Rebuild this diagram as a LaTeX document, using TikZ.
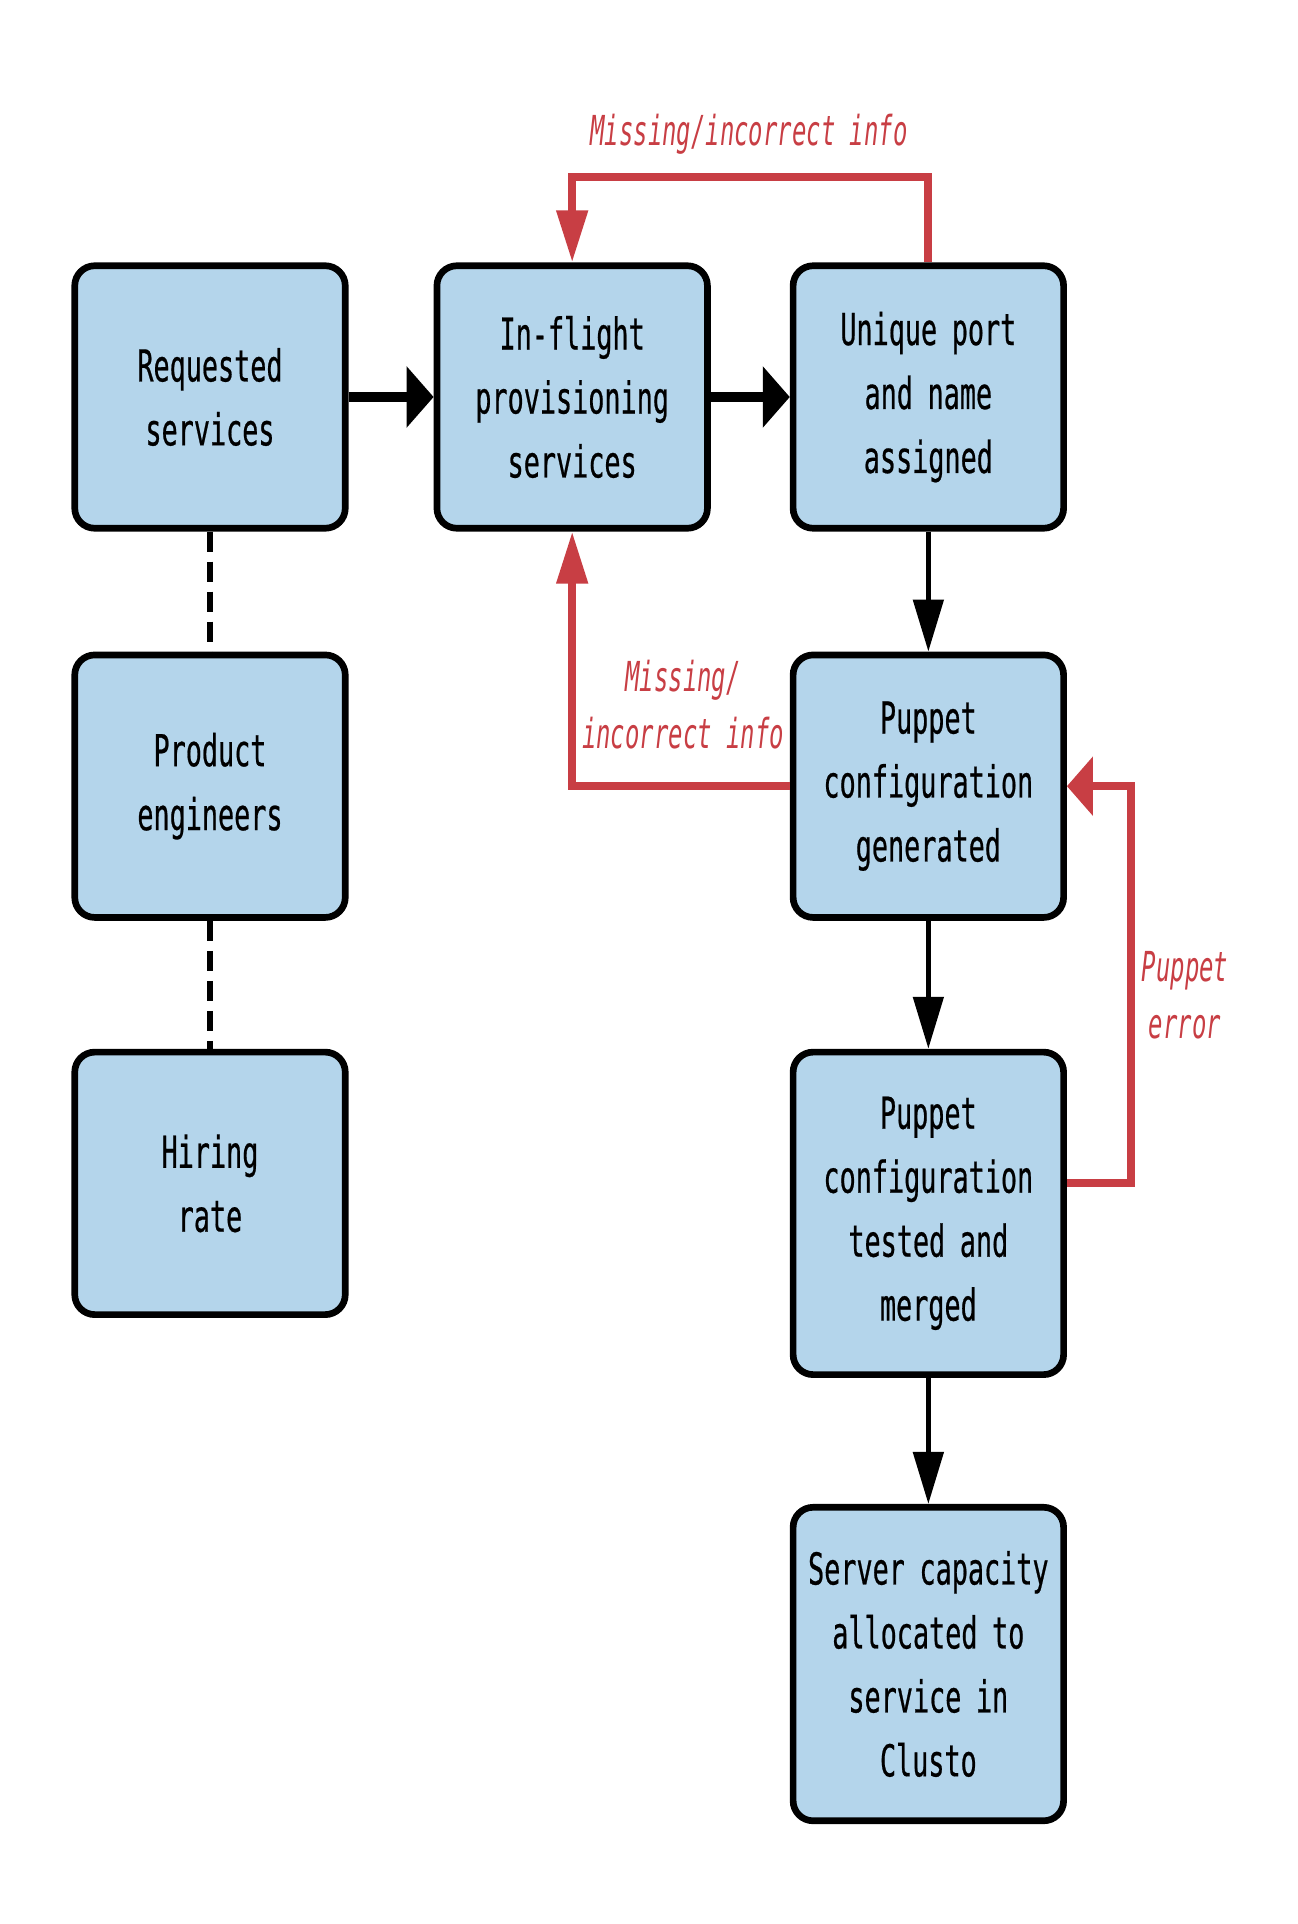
\documentclass[tikz,border=0pt]{standalone}
\usepackage{fontspec}
\newfontfamily\boxfont[FakeStretch=0.61, FakeBold=0.5]{DejaVu Sans Mono}
\newfontfamily\notefont[FakeStretch=0.58]{DejaVu Sans Mono}
\usepackage{tikz}
\usetikzlibrary{positioning, arrows.meta}
\definecolor{boxblue}{RGB}{180,213,235}
\definecolor{loopred}{RGB}{200,62,68}
\tikzstyle{stage} = [rectangle, rounded corners=0.4cm, minimum width=5.41cm, text width=5.3cm, minimum height=5.25cm, inner sep=0pt, align=center, draw=black, line width=3.8pt, fill=boxblue, font=\boxfont\fontsize{25}{36.4}\selectfont]
\tikzstyle{note} = [align=center, text=loopred, font=\notefont\itshape\fontsize{23.5}{32.4}\selectfont]
\tikzstyle{flowh} = [line width=5.5pt, -{Triangle[length=0.54cm, width=1.2cm]}]
\tikzstyle{flowv} = [line width=2.8pt, -{Triangle[length=1.04cm, width=0.6cm]}]
\tikzstyle{redv} = [draw=loopred, line width=4.5pt, -{Triangle[length=1.04cm, width=0.6cm]}]
\tikzstyle{redh} = [draw=loopred, line width=4.5pt, -{Triangle[length=0.52cm, width=1.16cm]}]
\tikzstyle{dotline} = [line width=3.5pt, dash pattern=on 0.4cm off 0.2cm]

\begin{document}
\begin{tikzpicture}
\useasboundingbox (0,0) rectangle (25.96,-38.48);
\node(1)[stage] at (4.2,-7.94){Requested\\services};
\node(2)[stage, right = 1.7cm of 1]{In-flight\\provisioning\\services};
\node(3)[stage, right = 1.58cm of 2]{Unique port\\and name\\assigned};
\node(4)[stage, below = 2.4cm of 3]{Puppet\\configuration\\generated};
\node(5)[stage, below = 2.56cm of 4, minimum height=6.45cm]{Puppet\\configuration\\tested and\\merged};
\node(6)[stage, below = 2.52cm of 5, minimum height=6.27cm]{Server capacity\\allocated to\\service in\\Clusto};
\node(7)[stage, below = 2.4cm of 1]{Product\\engineers};
\node(8)[stage, below = 2.56cm of 7]{Hiring\\rate};
\node(m1)[note, anchor=base] at (14.98,-2.9){Missing/incorrect info};
\node(m2)[note] at (13.66,-14.1){Missing/\\incorrect info};
\node(m3)[note] at (23.7,-19.9){Puppet\\error};
\draw[flowh](1) -- (2);
\draw[flowh](2) -- (3);
\draw[flowv](3) -- (4);
\draw[flowv](4) -- (5);
\draw[flowv](5) -- (6);
\draw[dotline](1) -- (7);
\draw[dotline](7) -- (8);
\draw[redv](3.north) -- ++(0,1.7) -| (2.north);
\draw[redv](4.west) -| (2.south);
\draw[redh]([yshift=0.6cm]5.east) -- ++(1.28,0) |- (4.east);
\end{tikzpicture}
\end{document}
